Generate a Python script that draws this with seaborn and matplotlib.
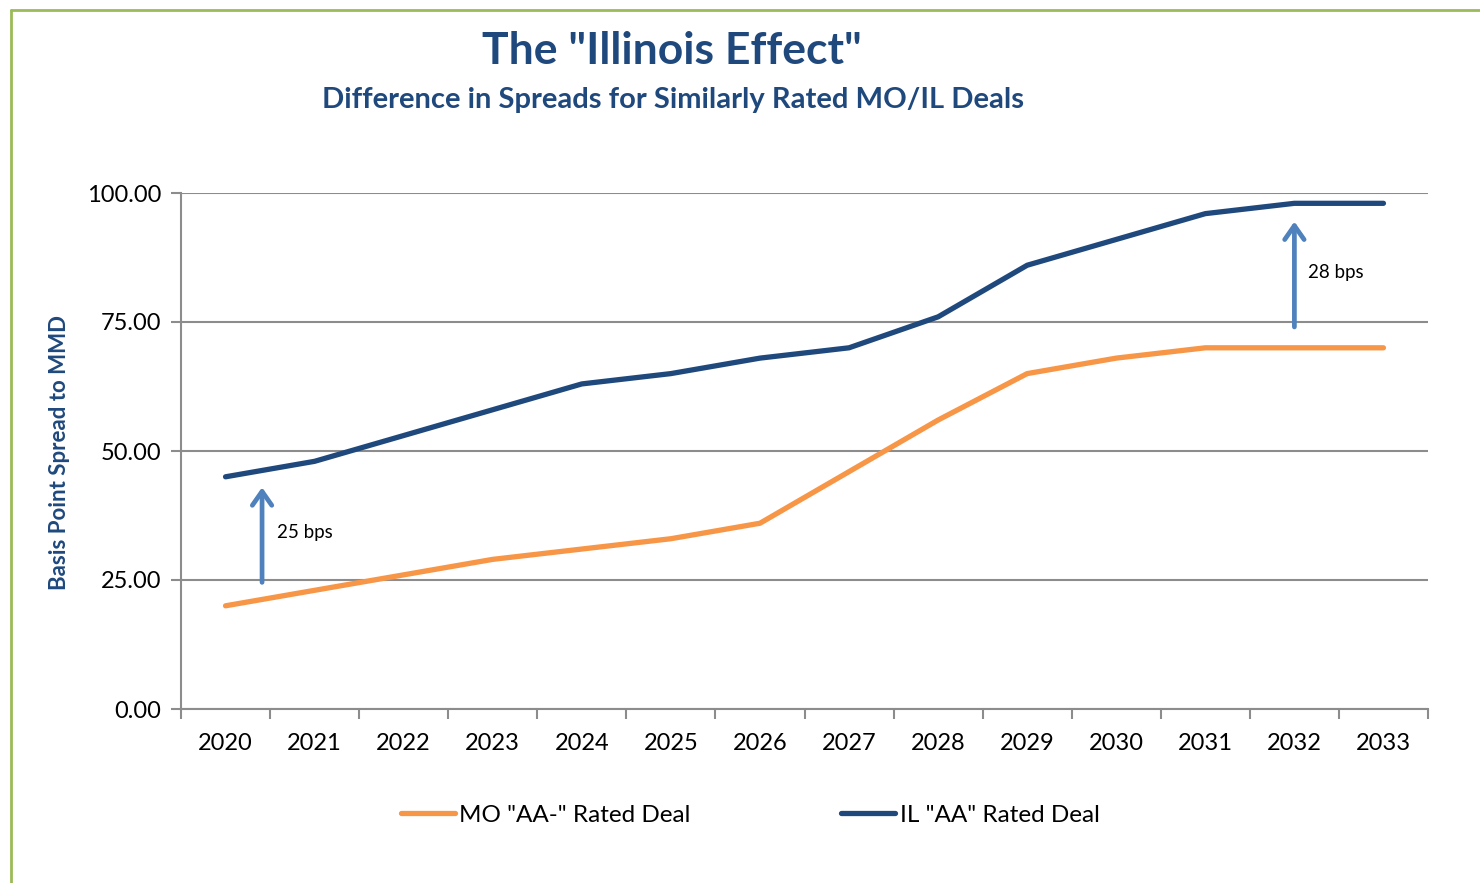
import pandas as pd
import matplotlib.pyplot as plt
import matplotlib.lines as mlines
import seaborn as sns

# data
years = [str(y) for y in range(2020, 2034)]
mo_spread = [20, 23, 26, 29, 31, 33, 36, 46, 56, 65, 68, 70, 70, 70]
il_spread = [45, 48, 53, 58, 63, 65, 68, 70, 76, 86, 91, 96, 98, 98]
series_names = ['MO "AA-" Rated Deal', 'IL "AA" Rated Deal']
gap_labels = ["25 bps", "28 bps"]

data = pd.DataFrame({
    "year": years * 2,
    "spread": mo_spread + il_spread,
    "deal": [series_names[0]] * len(years) + [series_names[1]] * len(years),
})

sns.set_style("white")
plt.rcParams["font.family"] = ["Lato", "DejaVu Sans"]

navy = "#1F497D"
orange = "#F79646"
arrow_blue = "#4F81BD"
grid_gray = "#8C8C8C"

fig = plt.figure(figsize=(14.8, 8.83), dpi=100)
ax = fig.add_axes([181 / 1480, 1 - 709 / 883, (1428 - 181) / 1480, (709 - 193) / 883])

sns.lineplot(
    data=data, x="year", y="spread", hue="deal",
    palette=[orange, navy], linewidth=3.8, ax=ax, legend=False,
    solid_capstyle="round", sort=False,
)

ax.set_xlim(-0.5, len(years) - 0.5)
ax.set_ylim(0, 100)
ax.set_yticks([0, 25, 50, 75, 100])
ax.set_yticklabels([f"{v:.2f}" for v in [0, 25, 50, 75, 100]], fontsize=17)
ax.set_xticks(range(len(years)))
ax.set_xticklabels(years, fontsize=17)
ax.set_xticks([i - 0.5 for i in range(len(years) + 1)], minor=True)
ax.tick_params(axis="x", which="major", bottom=True, length=0, pad=17, labelcolor="black")
ax.tick_params(axis="x", which="minor", bottom=True, length=7, width=1.5,
               color=grid_gray, direction="out")
ax.tick_params(axis="y", left=True, length=7, width=1.5, color=grid_gray,
               direction="out", pad=7, labelcolor="black")
ax.yaxis.grid(True, color=grid_gray, linewidth=1.5)
ax.set_axisbelow(True)
for s in ["top", "right"]:
    ax.spines[s].set_visible(False)
for s in ["left", "bottom"]:
    ax.spines[s].set_color(grid_gray)
    ax.spines[s].set_linewidth(1.5)
ax.set_xlabel("")
ax.set_ylabel("")

# gap arrows
arrow_style = dict(arrowstyle="->,head_length=1.0,head_width=0.7", color=arrow_blue, lw=3.4)
ax.annotate("", xy=(0.41, 43.5), xytext=(0.41, 24), arrowprops=arrow_style)
ax.annotate("", xy=(12, 95), xytext=(12, 73.5), arrowprops=arrow_style)
ax.text(0.58, 34.3, gap_labels[0], fontsize=13.5, va="center", ha="left", color="black")
ax.text(12.15, 84.5, gap_labels[1], fontsize=13.5, va="center", ha="left", color="black")

# titles
fig.text(0.454, 0.942, 'The "Illinois Effect"', fontsize=32, fontweight="bold",
         color=navy, ha="center", va="center")
fig.text(0.455, 0.887, "Difference in Spreads for Similarly Rated MO/IL Deals",
         fontsize=21, fontweight="bold", color=navy, ha="center", va="center")
fig.text(0.0405, 0.488, "Basis Point Spread to MMD", fontsize=16, fontweight="bold",
         color=navy, rotation=90, ha="center", va="center")

# legend
handles = [
    mlines.Line2D([], [], color=orange, lw=3.8, solid_capstyle="round"),
    mlines.Line2D([], [], color=navy, lw=3.8, solid_capstyle="round"),
]
leg = fig.legend(handles, series_names, loc="center", bbox_to_anchor=(0.507, 1 - 815 / 883),
                 ncol=2, frameon=False, fontsize=17.5, handlelength=2.2, handletextpad=0.2,
                 columnspacing=6.2)
for t in leg.get_texts():
    t.set_color("black")

# green frame
frame = "#9BBB59"
fig.add_artist(mlines.Line2D([11 / 1480, 11 / 1480], [0, 1 - 10 / 883], color=frame, lw=2,
                             transform=fig.transFigure))
fig.add_artist(mlines.Line2D([11 / 1480, 1], [1 - 10 / 883, 1 - 10 / 883], color=frame, lw=2,
                             transform=fig.transFigure))

fig.savefig("out.png", dpi=100, facecolor="white")
